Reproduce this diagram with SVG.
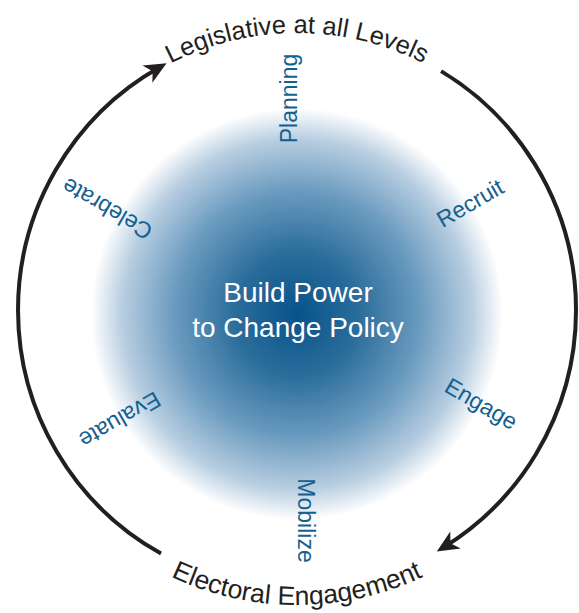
<svg xmlns="http://www.w3.org/2000/svg" xmlns:xlink="http://www.w3.org/1999/xlink" width="579" height="613" viewBox="0 0 579 613">
  <style>
    .lbl { font-family: "Liberation Sans", "Open Sans", sans-serif; font-size: 23px; fill: #14608f; text-anchor: middle; }
    .ring { font-family: "Liberation Sans", "Open Sans", sans-serif; fill: #231f20; }
    .center { font-family: "Liberation Sans", "Open Sans", sans-serif; font-size: 28px; fill: #ffffff; text-anchor: middle; }
    .arc { fill: none; stroke: #231f20; stroke-width: 4; }
  </style>
  <defs>
    <radialGradient id="blob" cx="297" cy="314" r="206" gradientUnits="userSpaceOnUse">
      <stop offset="0" stop-color="#07538a"/>
      <stop offset="0.3" stop-color="#2a6d9b"/>
      <stop offset="0.6" stop-color="#6b9bbf"/>
      <stop offset="0.85" stop-color="#b8cee1"/>
      <stop offset="1" stop-color="#ffffff"/>
    </radialGradient>
    <marker id="arrow" markerUnits="userSpaceOnUse" markerWidth="26" markerHeight="24" viewBox="-24 -12 26 24" refX="-8" refY="0" orient="auto">
      <path d="M0,0 L-22,-10 L-16,0 L-22,10 Z" fill="#231f20"/>
    </marker>
    <path id="topPath" d="M 20,310 A 277 277 0 0 1 574,310"/>
    <path id="bottomPath" d="M 2,310 A 295 295 0 0 0 592,310"/>
  </defs>

  <g id="blob-bg">
    <circle cx="297" cy="314" r="206" fill="url(#blob)"/>
  </g>

  <g id="connectors">
    <path class="arc" d="M 161,553.6 A 279 279 0 0 1 159.6,67.2" marker-end="url(#arrow)"/>
    <path class="arc" d="M 441.1,71.1 A 279 279 0 0 1 443.6,547.4" marker-end="url(#arrow)"/>
  </g>

  <g id="legislative">
    <text class="ring" font-size="25.5" text-anchor="middle"><textPath xlink:href="#topPath" href="#topPath" startOffset="50%">Legislative at all Levels</textPath></text>
  </g>
  <g id="electoral">
    <text class="ring" font-size="26.5" text-anchor="middle"><textPath xlink:href="#bottomPath" href="#bottomPath" startOffset="50%">Electoral Engagement</textPath></text>
  </g>

  <g id="center">
    <text class="center" x="298" y="302">Build Power</text>
    <text class="center" x="298" y="337">to Change Policy</text>
  </g>

  <g id="planning"><text class="lbl" transform="translate(288.5,98.5) rotate(-90)" y="8">Planning</text></g>
  <g id="recruit"><text class="lbl" transform="translate(470,203) rotate(-30)" y="8">Recruit</text></g>
  <g id="engage"><text class="lbl" transform="translate(481,404) rotate(30)" y="7.5">Engage</text></g>
  <g id="mobilize"><text class="lbl" transform="translate(305.5,520.5) rotate(90)" y="8">Mobilize</text></g>
  <g id="evaluate"><text class="lbl" transform="translate(120,420) rotate(150)" y="8">Evaluate</text></g>
  <g id="celebrate"><text class="lbl" transform="translate(107,209) rotate(210)" y="8">Celebrate</text></g>
</svg>
